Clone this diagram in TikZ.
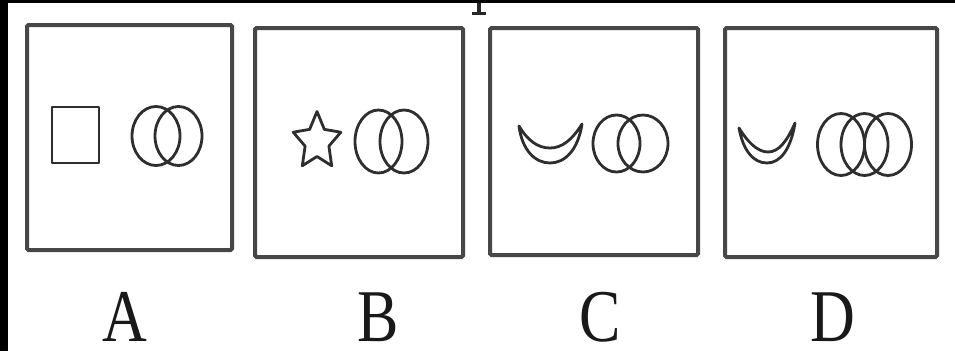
\documentclass[tikz,border=0pt]{standalone}
\usepackage{fontspec}
\setmainfont{Liberation Serif}
\begin{document}
\begin{tikzpicture}[x=1pt,y=-1pt,
  framebox/.style={draw=black!72,line width=4pt,rounded corners=1.5pt},
  figline/.style={draw=black!82,line width=2.8pt,line join=round},
  optlabel/.style={anchor=base,inner sep=0pt,text depth=0pt,font=\fontsize{62}{62}\selectfont,text=black!90}]
\useasboundingbox (0,0) rectangle (955,351);
\fill[white] (0,0) rectangle (955,351);
% black scan edges
\fill[black] (0,0) rectangle (8,351);
\fill[black] (0,0) rectangle (955,3);
% cut-off glyph at top
\fill[black!85] (477,3) rectangle (480.5,14);
\fill[black!85] (472,11.5) rectangle (486,14.5);
% boxes
\node[framebox,minimum width=205pt,minimum height=225pt,inner sep=0pt] (boxA) at (129.5,137.5) {};
\node[framebox,minimum width=208pt,minimum height=229pt,inner sep=0pt] (boxB) at (359,142.5) {};
\node[framebox,minimum width=208pt,minimum height=227pt,inner sep=0pt] (boxC) at (594,141.5) {};
\node[framebox,minimum width=212pt,minimum height=229pt,inner sep=0pt] (boxD) at (831,142.5) {};
% A contents
\draw[figline] (52,107) rectangle (99,163);
\draw[figline] (156,136) ellipse [x radius=24pt,y radius=29.5pt];
\draw[figline] (178.5,136) ellipse [x radius=23.5pt,y radius=29.5pt];
% B contents
\draw[figline] ({317+25*cos(90)},{141.5-30*sin(90)})
  \foreach \a/\f in {126/0.5,162/1,198/0.5,234/1,270/0.5,306/1,342/0.5,378/1,414/0.5}
  { -- ({317+25*\f*cos(\a)},{141.5-30*\f*sin(\a)}) } -- cycle;
\draw[figline] (378.5,141.5) ellipse [x radius=23.5pt,y radius=31.5pt];
\draw[figline] (404,141.5) ellipse [x radius=24pt,y radius=31.5pt];
% C contents
\draw[figline] (519,126) .. controls (522,150) and (535,163) .. (550,163)
  .. controls (565,163) and (578,150) .. (582,124)
  .. controls (572,140) and (562,148) .. (550,148)
  .. controls (538,148) and (528,141) .. (519,126) -- cycle;
\draw[figline] (616.5,143.5) ellipse [x radius=23.5pt,y radius=28.5pt];
\draw[figline] (643,143.5) ellipse [x radius=25pt,y radius=28.5pt];
% D contents
\draw[figline] (739,128) .. controls (743,150) and (753,163) .. (767,163)
  .. controls (781,163) and (791,148) .. (795,123)
  .. controls (787,141) and (779,152) .. (768,152)
  .. controls (757,152) and (747,141) .. (739,128) -- cycle;
\draw[figline] (841,144.5) ellipse [x radius=23.5pt,y radius=31pt];
\draw[figline] (864.5,144.5) ellipse [x radius=23.5pt,y radius=31pt];
\draw[figline] (888,144.5) ellipse [x radius=23.5pt,y radius=31pt];
% labels
\node[optlabel] (labA) at (125,341) {\scalebox{1}[1.2]{A}};
\node[optlabel] (labB) at (378,341) {\scalebox{1}[1.2]{B}};
\node[optlabel] (labC) at (600,341) {\scalebox{1}[1.2]{C}};
\node[optlabel] (labD) at (833,341) {\scalebox{1}[1.2]{D}};
\end{tikzpicture}
\end{document}
